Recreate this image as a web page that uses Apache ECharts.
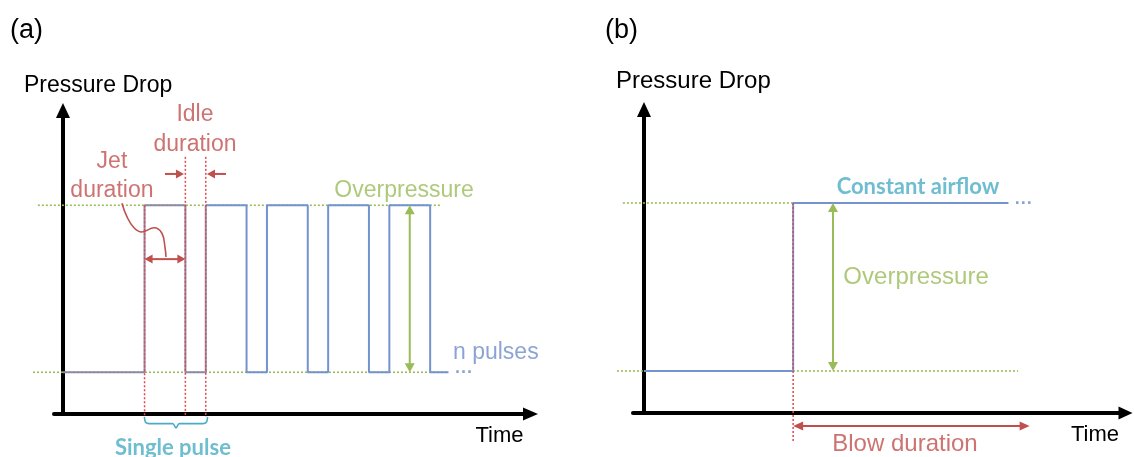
<!DOCTYPE html>
<html><head><meta charset="utf-8">
<script src="https://cdn.jsdelivr.net/npm/echarts@6/dist/echarts.min.js"></script>
<style>html,body{margin:0;padding:0;background:#fff}#c{width:1134px;height:457px}</style>
</head><body><div id="c"></div>
<script>
// ---------------- DATA (schematic units) ----------------
// Pressure levels
const levelLow = 1, levelHigh = 5;

// Panel (a): pulsed jet — transition times and levels (step after each point)
const pulseTimes  = [0, 4, 6, 7, 9, 10, 12, 13, 15, 16, 18, 18.9];
const pulseLevels = [1, 5, 1, 5, 1, 5, 1, 5, 1, 5, 1, 1];
const singlePulseLastIdx = 3;               // first pulse ends at time 7
const guideHighA = [-1.23, 18.5];           // dotted guide extents (time)
const guideLowA  = [-1.47, 18.9];
const markerTimesA = [4, 6, 7];             // jet start, jet end, idle end
const markerTopsA  = [5, 6.16, 6.16];
const markerBottomA = -0.07;
const idleArrowY = 5.75;
const idleArrowFrom = [5.0, 7.99];
const idleArrowTo   = [5.93, 7.06];
const jetArrowY = 3.71;
const overpressureTimeA = 17;
const leaderX = [2.89, 3.14, 3.48, 3.86, 4.46, 4.85, 5.0, 5.05];
const leaderY = [5.05, 4.72, 4.46, 4.36, 4.46, 4.33, 4.0, 3.76];
const bracketX = [3.99, 4.04, 4.22, 5.38, 5.54, 5.70, 6.86, 7.04, 7.09];
const bracketY = [-0.07, -0.19, -0.23, -0.23, -0.335, -0.23, -0.23, -0.19, -0.07];
const labelTextA = ['Jet\nduration', 'Idle\nduration', 'Overpressure', 'n pulses', '···', 'Single pulse'];
const labelXA    = [2.4, 6.47, 16.72, 21.22, 19.66, 5.39];
const labelYA    = [5.69, 6.80, 5.34, 1.46, 0.98, -0.81];

// Panel (b): constant airflow
const stepTimes  = [0, 7, 17.1];
const stepLevels = [1, 5, 5];
const guideHighB = [-0.99, 17.1];
const guideLowB  = [-1.27, 17.56];
const blowStart = 7, blowEnd = 18.1, blowArrowY = -0.31, blowMarkerBottom = -0.69;
const overpressureTimeB = 8.87;
const labelTextB = ['Constant airflow', '···', 'Overpressure', 'Blow duration'];
const labelXB    = [12.86, 17.82, 12.77, 12.25];
const labelYB    = [5.38, 4.98, 3.24, -0.74];

// ---------------- STYLES ----------------
const FONT = '"Liberation Sans", Arial, sans-serif';
const BOLDFONT = 'Lato, "Open Sans", sans-serif';
const RED = '#c0504d', RED_DOT = '#e2474d', GREEN = '#9bbb59', BLUE = '#7393cf',
      GRAY = '#8c8aa6', TEAL = '#4bacc6', BLUE_TXT = '#6f8dc8';
const labelStyleA = [
  {color: RED, size: 23, lh: 29},
  {color: RED, size: 23, lh: 30},
  {color: GREEN, size: 23},
  {color: BLUE_TXT, size: 23},
  {color: BLUE_TXT, size: 18, weight: 'bold'},
  {color: TEAL, size: 22, weight: 'bold', font: BOLDFONT}
];
const labelStyleB = [
  {color: TEAL, size: 22, weight: 'bold', font: BOLDFONT},
  {color: BLUE_TXT, size: 18, weight: 'bold'},
  {color: GREEN, size: 24},
  {color: RED, size: 24}
];

function pairs(xs, ys) { return xs.map((x, i) => [x, ys[i]]); }

function segSeries(gi, segs, color, width, dash, z) {
  return {
    type: 'custom', xAxisIndex: gi, yAxisIndex: gi, z: z, silent: true, clip: false,
    data: segs,
    renderItem: function (params, api) {
      const a = api.coord([api.value(0), api.value(1)]);
      const b = api.coord([api.value(2), api.value(3)]);
      return {type: 'line', shape: {x1: a[0], y1: a[1], x2: b[0], y2: b[1]},
        style: {stroke: color, lineWidth: width, lineDash: dash, fill: null}};
    }
  };
}

function arrowSeries(gi, arrows, color, width, hl, hw, z) {
  return {
    type: 'custom', xAxisIndex: gi, yAxisIndex: gi, z: z, silent: true, clip: false,
    data: arrows,
    renderItem: function (params, api) {
      const a = api.coord([api.value(0), api.value(1)]);
      const b = api.coord([api.value(2), api.value(3)]);
      const both = api.value(4) === 1;
      const dx = b[0] - a[0], dy = b[1] - a[1], L = Math.hypot(dx, dy);
      const ux = dx / L, uy = dy / L, px = -uy, py = ux;
      const head = (t, ex, ey) => ({type: 'polygon', shape: {points: [
        [t[0], t[1]],
        [t[0] - ex * hl + px * hw / 2, t[1] - ey * hl + py * hw / 2],
        [t[0] - ex * hl - px * hw / 2, t[1] - ey * hl - py * hw / 2]]},
        style: {fill: color, stroke: null}});
      const s = both ? [a[0] + ux * hl * 0.7, a[1] + uy * hl * 0.7] : a;
      const e = [b[0] - ux * hl * 0.7, b[1] - uy * hl * 0.7];
      const children = [{type: 'line', shape: {x1: s[0], y1: s[1], x2: e[0], y2: e[1]},
        style: {stroke: color, lineWidth: width}}, head(b, ux, uy)];
      if (both) children.push(head(a, -ux, -uy));
      return {type: 'group', children: children};
    }
  };
}

function labelSeries(gi, texts, xs, ys, styles) {
  return {
    type: 'scatter', xAxisIndex: gi, yAxisIndex: gi, symbolSize: 0, clip: false, silent: true, z: 6,
    data: texts.map((t, i) => ({
      value: [xs[i], ys[i]],
      label: {show: true, position: 'inside', formatter: t, color: styles[i].color,
        fontSize: styles[i].size, fontWeight: styles[i].weight || 'normal',
        fontFamily: styles[i].font || FONT, lineHeight: styles[i].lh || styles[i].size * 1.2}
    }))
  };
}

function hiddenAxisBase(gi, min, max, sym) {
  return {
    gridIndex: gi, type: 'value', min: min, max: max,
    axisLine: {show: true, onZero: true, symbol: ['none', 'triangle'], symbolSize: sym,
      lineStyle: {color: '#000', width: 4}},
    axisTick: {show: false}, axisLabel: {show: false}, splitLine: {show: false}
  };
}

const pulseData = pairs(pulseTimes, pulseLevels);
const stepData = pairs(stepTimes, stepLevels);

const option = {
  animation: false,
  backgroundColor: '#fff',
  grid: [
    {left: 54, top: 110.5, width: 476.5, height: 303.5},
    {left: 633, top: 109.5, width: 492.5, height: 303.5}
  ],
  xAxis: [
    hiddenAxisBase(0, -0.44, 22.92, [13, 15]),
    hiddenAxisBase(1, -0.516, 22.6, [13, 14])
  ],
  yAxis: [
    hiddenAxisBase(0, 0, 7.27, [14, 15]),
    hiddenAxisBase(1, 0, 7.226, [14, 15])
  ],
  graphic: [
    {type: 'text', x: 10, y: 31, style: {text: '(a)', font: '27px ' + FONT, fill: '#000', textVerticalAlign: 'middle', verticalAlign: 'middle'}},
    {type: 'text', x: 605, y: 31, style: {text: '(b)', font: '27px ' + FONT, fill: '#000', textVerticalAlign: 'middle', verticalAlign: 'middle'}},
    {type: 'text', x: 24, y: 86, style: {text: 'Pressure Drop', font: '23px ' + FONT, fill: '#000', textVerticalAlign: 'middle', verticalAlign: 'middle'}},
    {type: 'text', x: 616, y: 81, style: {text: 'Pressure Drop', font: '24px ' + FONT, fill: '#000', textVerticalAlign: 'middle', verticalAlign: 'middle'}},
    {type: 'text', x: 499.5, y: 436, style: {text: 'Time', font: '22px ' + FONT, fill: '#000', textAlign: 'center', align: 'center', textVerticalAlign: 'middle', verticalAlign: 'middle'}},
    {type: 'text', x: 1095, y: 435, style: {text: 'Time', font: '22px ' + FONT, fill: '#000', textAlign: 'center', align: 'center', textVerticalAlign: 'middle', verticalAlign: 'middle'}}
  ],
  series: [
    // ---- panel (a)
    segSeries(0, [[guideHighA[0], levelHigh, guideHighA[1], levelHigh],
                  [guideLowA[0], levelLow, guideLowA[1], levelLow]], GREEN, 1.6, [2, 2], 1),
    {type: 'line', xAxisIndex: 0, yAxisIndex: 0, step: 'end', data: pulseData.slice(singlePulseLastIdx),
     showSymbol: false, symbol: 'none', clip: false, silent: true, z: 2, lineStyle: {color: BLUE, width: 2}},
    {type: 'line', xAxisIndex: 0, yAxisIndex: 0, step: 'end', data: pulseData.slice(0, singlePulseLastIdx + 1),
     showSymbol: false, symbol: 'none', clip: false, silent: true, z: 2, lineStyle: {color: GRAY, width: 2}},
    segSeries(0, markerTimesA.map((t, i) => [t, markerTopsA[i], t, markerBottomA]), RED_DOT, 1.5, [2, 2], 3),
    arrowSeries(0, [[idleArrowFrom[0], idleArrowY, idleArrowTo[0], idleArrowY, 0],
                    [idleArrowFrom[1], idleArrowY, idleArrowTo[1], idleArrowY, 0],
                    [markerTimesA[0], jetArrowY, markerTimesA[1], jetArrowY, 1]], RED, 2, 8, 9, 4),
    arrowSeries(0, [[overpressureTimeA, levelLow, overpressureTimeA, levelHigh, 1]], GREEN, 2, 9, 10, 4),
    {type: 'line', xAxisIndex: 0, yAxisIndex: 0, data: pairs(leaderX, leaderY), smooth: 0.4,
     showSymbol: false, symbol: 'none', clip: false, silent: true, z: 4, lineStyle: {color: RED, width: 1.6}},
    {type: 'line', xAxisIndex: 0, yAxisIndex: 0, data: pairs(bracketX, bracketY), smooth: 0.25,
     showSymbol: false, symbol: 'none', clip: false, silent: true, z: 4, lineStyle: {color: TEAL, width: 1.6}},
    labelSeries(0, labelTextA, labelXA, labelYA, labelStyleA),
    // ---- panel (b)
    segSeries(1, [[guideHighB[0], levelHigh, guideHighB[1], levelHigh],
                  [guideLowB[0], levelLow, guideLowB[1], levelLow]], GREEN, 1.6, [2, 2], 1),
    {type: 'line', xAxisIndex: 1, yAxisIndex: 1, step: 'end', data: stepData,
     showSymbol: false, symbol: 'none', clip: false, silent: true, z: 2, lineStyle: {color: BLUE, width: 2}},
    segSeries(1, [[blowStart, levelHigh, blowStart, blowMarkerBottom]], RED_DOT, 1.5, [2, 2], 3),
    arrowSeries(1, [[blowStart, blowArrowY, blowEnd, blowArrowY, 1]], RED, 2, 10, 9, 4),
    arrowSeries(1, [[overpressureTimeB, levelLow, overpressureTimeB, levelHigh, 1]], GREEN, 2, 9, 10, 4),
    labelSeries(1, labelTextB, labelXB, labelYB, labelStyleB)
  ]
};

const chart = echarts.init(document.getElementById('c'));
chart.setOption(option);
</script>
</body></html>
